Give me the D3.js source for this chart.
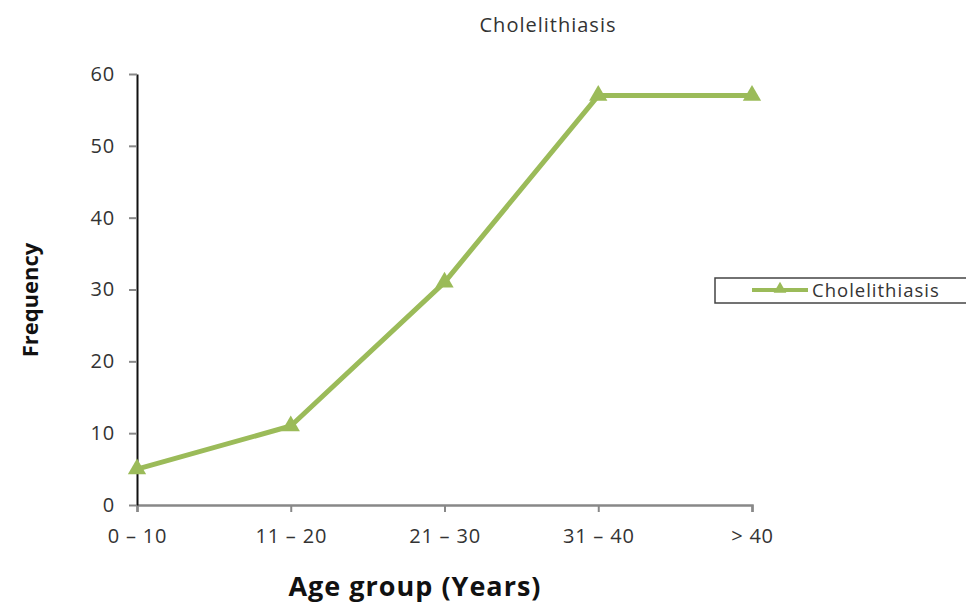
<!DOCTYPE html>
<html><head><meta charset="utf-8">
<script src="https://cdn.jsdelivr.net/npm/d3@7"></script>
<style>body{margin:0;background:#fff;} svg{display:block;font-family:"Open Sans",Lato,sans-serif;}</style>
</head><body><svg id="c" width="966" height="605"></svg>
<script>
const categories = ["0 \u2013 10", "11 \u2013 20", "21 \u2013 30", "31 \u2013 40", "> 40"];
const values = [5, 11, 31, 57, 57];
const yTicks = [0, 10, 20, 30, 40, 50, 60];
const seriesName = "Cholelithiasis";
const titleText = "Cholelithiasis";
const xTitle = "Age group (Years)";
const yTitle = "Frequency";

const svg = d3.select("#c");
const color = "#9BBB59";
const FONT = '"Open Sans", Lato, sans-serif';
const x = d3.scalePoint().domain(categories).range([137, 752]);
const y = d3.scaleLinear().domain([0, 60]).range([505, 74]);

// x axis
const xa = svg.append("g").attr("transform", "translate(0,505)")
  .call(d3.axisBottom(x).tickSize(7).tickPadding(17));
xa.attr("font-family", FONT);
xa.select(".domain").attr("stroke", "#888").attr("stroke-width", 2.5);
xa.selectAll(".tick line").attr("stroke", "#888").attr("stroke-width", 2);
xa.selectAll(".tick text").attr("font-size", 20).attr("letter-spacing", 0.8).attr("fill", "#333");

// y axis
const ya = svg.append("g").attr("transform", "translate(137,0)")
  .call(d3.axisLeft(y).tickValues(yTicks).tickSize(8).tickSizeOuter(0).tickPadding(14));
ya.attr("font-family", FONT);
ya.select(".domain").attr("stroke", "#111").attr("stroke-width", 2);
ya.selectAll(".tick line").attr("stroke", "#888").attr("stroke-width", 2);
ya.selectAll(".tick text").attr("font-size", 20).attr("letter-spacing", 0.8).attr("fill", "#333");

// line
const line = d3.line().x((d, i) => x(categories[i])).y(d => y(d));
svg.append("path").datum(values).attr("d", line)
  .attr("fill", "none").attr("stroke", color).attr("stroke-width", 5).attr("stroke-linejoin", "round");

const tri = d3.symbol().type(d3.symbolTriangle).size(145);
svg.selectAll(".m").data(values).join("path")
  .attr("transform", (d, i) => `translate(${x(categories[i])},${y(d)})`)
  .attr("d", tri).attr("fill", color);

// title
svg.append("text").attr("x", 548).attr("y", 32).attr("text-anchor", "middle")
  .attr("font-size", 20).attr("letter-spacing", 1).attr("fill", "#333").text(titleText);

// axis titles
svg.append("text").attr("x", 415).attr("y", 596).attr("text-anchor", "middle")
  .attr("font-size", 27).attr("letter-spacing", 1).attr("font-weight", "bold").attr("fill", "#111").text(xTitle);
svg.append("text").attr("transform", "translate(38,300) rotate(-90)").attr("text-anchor", "middle")
  .attr("font-size", 22).attr("font-weight", "bold").attr("fill", "#111").text(yTitle);

// legend
const lg = svg.append("g");
lg.append("rect").attr("x", 715).attr("y", 278).attr("width", 260).attr("height", 25)
  .attr("fill", "#fff").attr("stroke", "#444").attr("stroke-width", 1.5);
lg.append("line").attr("x1", 752).attr("x2", 808).attr("y1", 290).attr("y2", 290)
  .attr("stroke", color).attr("stroke-width", 4);
lg.append("path").attr("transform", "translate(780,289)").attr("d", d3.symbol().type(d3.symbolTriangle).size(70)).attr("fill", color);
lg.append("text").attr("x", 812).attr("y", 297).attr("font-size", 18.5).attr("letter-spacing", 1).attr("fill", "#333").text(seriesName);
</script></body></html>
